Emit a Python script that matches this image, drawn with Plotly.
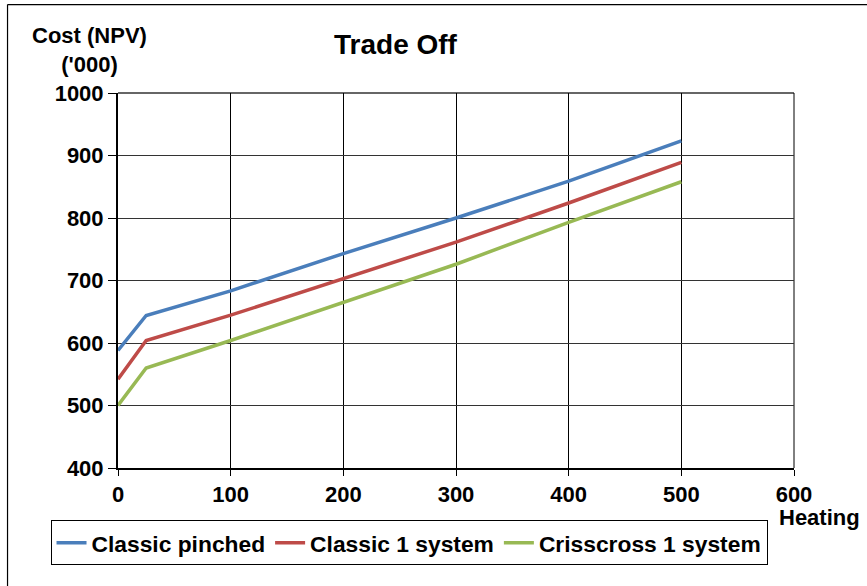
import plotly.graph_objects as go

# Heating duty vs. cost (NPV, thousands) for three network designs
heating = [0, 25, 100, 200, 300, 400, 500]
classic_pinched = [588, 644, 683.5, 743, 800, 859, 923.5]
classic_1_system = [542, 604, 644.5, 703, 761.5, 824, 889]
crisscross_1_system = [500, 560, 604, 665, 726, 793, 858]

x_ticks = [0, 100, 200, 300, 400, 500, 600]
y_ticks = [400, 500, 600, 700, 800, 900, 1000]

FONT = "Liberation Sans, Arial, sans-serif"
W, H = 867, 586
L, R, T, B = 117.5, 73.3, 93.3, 118.3
PW, PH = W - L - R, H - T - B


def px_x(px):
    return (px - L) / PW


def px_y(py):
    return (H - B - py) / PH


def bold(size):
    return dict(family=FONT, size=size, color="black", weight="bold")


fig = go.Figure()
series = [
    ("Classic pinched", classic_pinched, "#4A7EBB"),
    ("Classic 1 system", classic_1_system, "#BE4B48"),
    ("Crisscross 1 system", crisscross_1_system, "#98B954"),
]
for name, vals, color in series:
    fig.add_trace(go.Scatter(
        x=heating, y=vals, mode="lines", name=name,
        line=dict(color=color, width=3.5),
    ))

fig.update_layout(
    width=W, height=H,
    margin=dict(l=L, r=R, t=T, b=B, pad=0),
    paper_bgcolor="white", plot_bgcolor="white",
    font=bold(22),
    showlegend=True,
    legend=dict(
        orientation="h",
        x=px_x(50), y=px_y(520), xanchor="left", yanchor="top",
        bordercolor="black", borderwidth=1,
        font=bold(22.8),
        itemwidth=30, tracegroupgap=0,
    ),
    xaxis=dict(
        range=[0, 600], tickvals=x_ticks, ticktext=[str(v) for v in x_ticks],
        showgrid=True, gridcolor="black", gridwidth=1,
        showline=True, linecolor="black", linewidth=2,
        ticks="outside", ticklen=6, tickcolor="black", tickwidth=1,
        zeroline=False, fixedrange=True,
        tickfont=bold(22),
    ),
    yaxis=dict(
        range=[400, 1000], tickvals=y_ticks, ticktext=[str(v) for v in y_ticks],
        showgrid=True, gridcolor="#333333", gridwidth=1.4,
        showline=True, linecolor="black", linewidth=2,
        ticks="outside", ticklen=8, tickcolor="black", tickwidth=1,
        zeroline=False, fixedrange=True,
        tickfont=bold(22),
    ),
    annotations=[
        dict(text="Trade Off", xref="paper", yref="paper",
             x=px_x(396), y=px_y(45), xanchor="center", yanchor="middle",
             showarrow=False, font=bold(28)),
        dict(text="Cost (NPV)<br>('000)", xref="paper", yref="paper",
             x=px_x(89), y=px_y(50), xanchor="center", yanchor="middle",
             align="center", showarrow=False, font=bold(22)),
        dict(text="Heating", xref="paper", yref="paper",
             x=px_x(777), y=px_y(517), xanchor="left", yanchor="middle",
             showarrow=False, font=bold(22)),
    ],
    shapes=[
        # grid lines on the far edges of the plot area (1000 and 600)
        dict(type="line", xref="paper", yref="paper",
             x0=0, x1=1, y0=1, y1=1,
             line=dict(color="#333333", width=1.4), layer="below"),
        dict(type="line", xref="paper", yref="paper",
             x0=1, x1=1, y0=0, y1=1,
             line=dict(color="black", width=1), layer="below"),
        # chart-area frame (left and top edges)
        dict(type="line", xref="paper", yref="paper",
             x0=px_x(7), x1=px_x(7), y0=px_y(5), y1=px_y(590),
             line=dict(color="black", width=1.2)),
        dict(type="line", xref="paper", yref="paper",
             x0=px_x(7), x1=px_x(870), y0=px_y(5), y1=px_y(5),
             line=dict(color="black", width=1.2)),
    ],
)

fig.write_html("out.html")
